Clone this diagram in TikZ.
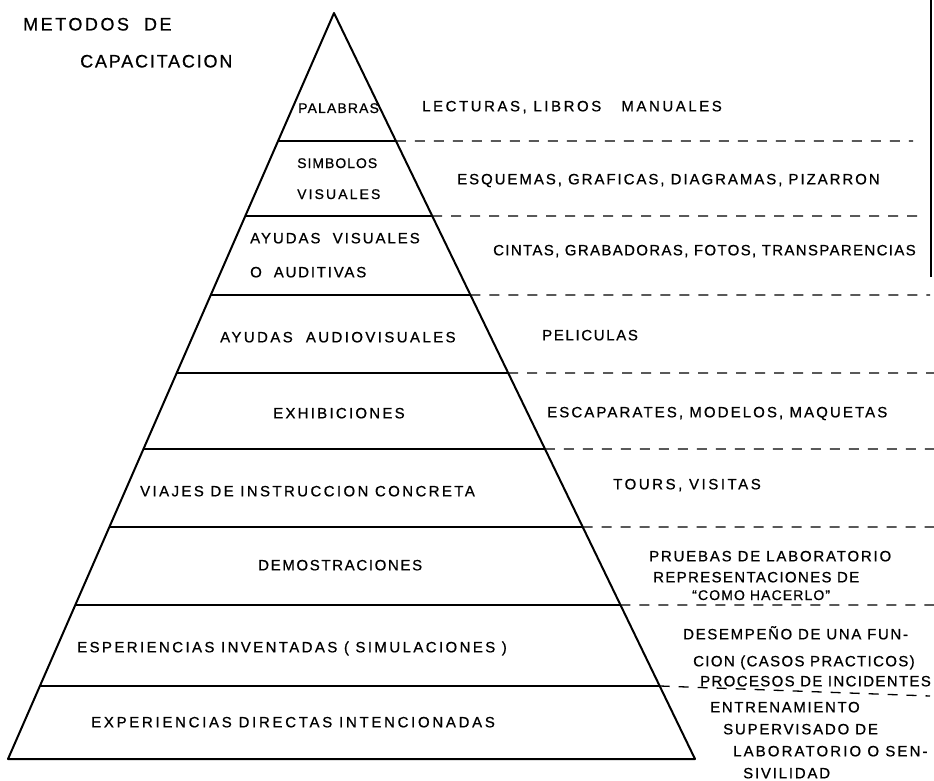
\documentclass[tikz,border=0pt]{standalone}
\usepackage{fontspec}
\setmainfont[FakeBold=0.7]{Liberation Sans}
\usetikzlibrary{calc}
\newcommand\lsp[2]{\fontsize{#1}{#1}\selectfont\addfontfeatures{LetterSpace=#2}}
\tikzset{
  edge/.style={line width=2pt, line join=round},
  tier/.style={line width=1.4pt},
  guide/.style={line width=1.3pt, dash pattern=on 10pt off 9pt},
  lbl/.style={anchor=west, inner sep=0pt, text height=10.7pt, text depth=0pt},
  smlbl/.style={anchor=west, inner sep=0pt, text height=10pt, text depth=0pt},
  ttl/.style={anchor=west, inner sep=0pt, text height=12.9pt, text depth=0pt},
}
\begin{document}
\begin{tikzpicture}[x=1pt,y=-1pt]
\useasboundingbox (0,0) rectangle (934,781);
\fill[white] (0,0) rectangle (934,781);
% pyramid
\coordinate (apex) at (334,13);
\coordinate (bl) at (8,759);
\coordinate (br) at (695,759);
\draw[edge] (apex) -- (bl) -- (br) -- cycle;
\foreach \y/\e/\d [count=\i] in {141/913/0,216/923/0,295/930/0,373/934/0,449/934/0,527/934/0,605/934/0,686/930/10} {
  \pgfmathsetmacro\t{(\y-13)/746}
  \coordinate (l\i) at ($(apex)!\t!(bl)$);
  \coordinate (r\i) at ($(apex)!\t!(br)$);
  \coordinate (e\i) at (\e,\y+\d);
  \draw[tier] (l\i) -- (r\i);
  \draw[guide] (r\i) -- (e\i);
}
% right border line
\coordinate (vt) at (931,0);
\coordinate (vb) at (931,277);
\draw[line width=1.5pt] (vt) -- (vb);
% title
\node[ttl, font=\lsp{18}{14}] (t1) at (23,24) {METODOS\ \ DE};
\node[ttl, font=\lsp{18}{10}] (t2) at (80,61) {CAPACITACION};
% pyramid labels
\node[smlbl, font=\lsp{14}{8}] (p1) at (298,108) {PALABRAS};
\node[smlbl, font=\lsp{14}{7}] (p2a) at (297,163) {SIMBOLOS};
\node[smlbl, font=\lsp{14}{15}] (p2b) at (297,194) {VISUALES};
\node[lbl, font=\lsp{15}{13}] (p3a) at (250,238) {AYUDAS\ \ VISUALES};
\node[lbl, font=\lsp{15}{12}] (p3b) at (250,272) {O\ \ AUDITIVAS};
\node[lbl, font=\lsp{15}{16}] (p4) at (220,337) {AYUDAS\ \ AUDIOVISUALES};
\node[lbl, font=\lsp{15}{15}] (p5) at (273,413) {EXHIBICIONES};
\node[lbl, font=\lsp{15}{16}] (p6) at (140,491) {VIAJES DE INSTRUCCION CONCRETA};
\node[lbl, font=\lsp{15}{11}] (p7) at (258,565) {DEMOSTRACIONES};
\node[lbl, font=\lsp{15}{16}] (p8) at (77,647) {ESPERIENCIAS INVENTADAS ( SIMULACIONES )};
\node[lbl, font=\lsp{15}{18}] (p9) at (91,722) {EXPERIENCIAS DIRECTAS INTENCIONADAS};
% right labels
\node[lbl, font=\lsp{15}{17}] (q1) at (422,106) {LECTURAS, LIBROS\ \ \ MANUALES};
\node[lbl, font=\lsp{15}{13}] (q2) at (457,179) {ESQUEMAS, GRAFICAS, DIAGRAMAS, PIZARRON};
\node[lbl, font=\lsp{15}{9}] (q3) at (493,250) {CINTAS, GRABADORAS, FOTOS, TRANSPARENCIAS};
\node[lbl, font=\lsp{15}{11}] (q4) at (542,335) {PELICULAS};
\node[lbl, font=\lsp{15}{14}] (q5) at (547,412) {ESCAPARATES, MODELOS, MAQUETAS};
\node[lbl, font=\lsp{15}{17}] (q6) at (613,484) {TOURS, VISITAS};
\node[lbl, font=\lsp{15}{12}] (q7a) at (649,556) {PRUEBAS DE LABORATORIO};
\node[lbl, font=\lsp{15}{9}] (q7b) at (653,577) {REPRESENTACIONES DE};
\node[smlbl, font=\lsp{14}{8}] (q7c) at (692,595) {``COMO HACERLO''};
\node[lbl, font=\lsp{15}{11}] (q8a) at (683,634) {DESEMPEÑO DE UNA FUN-};
\node[lbl, font=\lsp{15}{9}] (q8b) at (693,661) {CION (CASOS PRACTICOS)};
\node[lbl, font=\lsp{15}{9}] (q8c) at (700,681) {PROCESOS DE INCIDENTES};
\node[lbl, font=\lsp{15}{11}] (q9a) at (710,707) {ENTRENAMIENTO};
\node[lbl, font=\lsp{15}{12}] (q9b) at (723,729) {SUPERVISADO DE};
\node[lbl, font=\lsp{15}{14}] (q9c) at (733,751) {LABORATORIO O SEN-};
\node[lbl, font=\lsp{15}{12}] (q9d) at (743,773) {SIVILIDAD};
\end{tikzpicture}
\end{document}
